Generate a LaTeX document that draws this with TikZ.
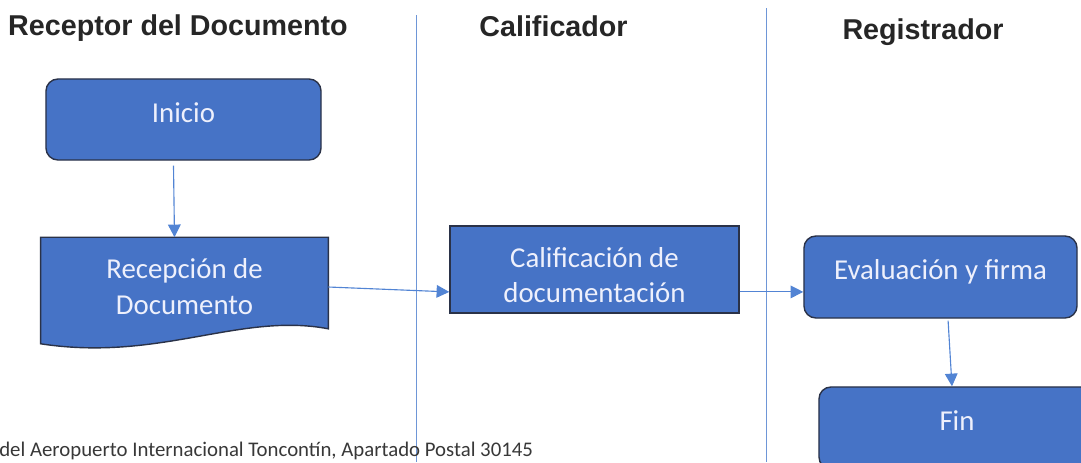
\documentclass[tikz,border=0pt]{standalone}
\usepackage{fontspec}
\setmainfont{Carlito}
\newfontfamily\titlefont{Liberation Sans}
\usetikzlibrary{arrows.meta,backgrounds}
\definecolor{BoxClr}{RGB}{70,115,198}
\definecolor{EdgeClr}{RGB}{42,50,72}
\definecolor{FlowClr}{RGB}{82,132,212}
\definecolor{LaneClr}{RGB}{110,150,215}
\definecolor{TxtClr}{RGB}{238,240,252}

\begin{document}
\begin{tikzpicture}[x=0.025cm,y=-0.025cm,
  lane/.style={line width=0.5pt,color=LaneClr},
  head/.style={anchor=base,font=\titlefont\bfseries\fontsize{20.4}{24}\selectfont,text=black!85},
  boxtext/.style={font=\fontsize{20.5}{25.5}\selectfont,text=TxtClr,align=center,inner sep=0pt},
  oneline/.style={text height=0.41cm,text depth=0.285cm},
  twoline/.style={text height=#1,text depth=0.1cm},
  roundbox/.style={boxtext,oneline,draw=EdgeClr,line width=1pt,fill=BoxClr,rounded corners=0.3cm},
  flatbox/.style={boxtext,draw=EdgeClr,line width=1pt,fill=BoxClr},
  docshape/.style={draw=EdgeClr,line width=1pt,fill=BoxClr},
  flow/.style={-{Triangle[length=9pt,width=9pt]},line width=0.8pt,color=FlowClr}]
\clip (0,0) rectangle (1081,462);

\draw[lane] (416,15) -- (416,462);
\draw[lane] (766,8) -- (766,462);

\node[head] (hrec) at (178,35) {Receptor del Documento};
\node[head] (hcal) at (553.5,36) {Calificador};
\node[head] (hreg) at (923,39) {Registrador};

\node[roundbox,minimum width=6.875cm,minimum height=2.025cm] (ini) at (183.5,119.5) {Inicio};
\node[boxtext,twoline=1.67cm,minimum width=7.175cm,minimum height=2.275cm] (rec) at (184.5,283) {Recepción de\\Documento};
\node[flatbox,twoline=1.77cm,minimum width=7.225cm,minimum height=2.175cm] (cal) at (594.5,269.5) {Calificación de\\documentación};
\node[roundbox,minimum width=6.825cm,minimum height=2.05cm] (eva) at (940.5,277) {Evaluación y firma};
\node[roundbox,minimum width=6.9cm,minimum height=2.05cm] (fin) at (957,428) {Fin};

\begin{scope}[on background layer]
\draw[docshape] (rec.north west) -- (rec.north east) -- (rec.south east)
  .. controls (240,312) and (160,362) .. ([yshift=-0.375cm]rec.south west) -- cycle;
\end{scope}

\draw[flow] ([xshift=-0.25cm,yshift=-0.12cm]ini.south) -- ([xshift=-0.25cm]rec.north);
\draw[flow] ([yshift=-0.1cm]rec.east) -- ([yshift=-0.56cm]cal.west);
\draw[flow] ([yshift=-0.56cm]cal.east) -- ([yshift=-0.56cm]cal.east -| eva.west);
\draw[flow] ([xshift=0.19cm,yshift=-0.05cm]eva.south) -- ([xshift=-0.125cm]fin.north);

\node[anchor=west,inner sep=0pt,font=\fontsize{14.8}{17}\selectfont,text=black!78] (addr) at (-1,451) {del Aeropuerto Internacional Toncontín, Apartado Postal 30145};

\end{tikzpicture}
\end{document}
